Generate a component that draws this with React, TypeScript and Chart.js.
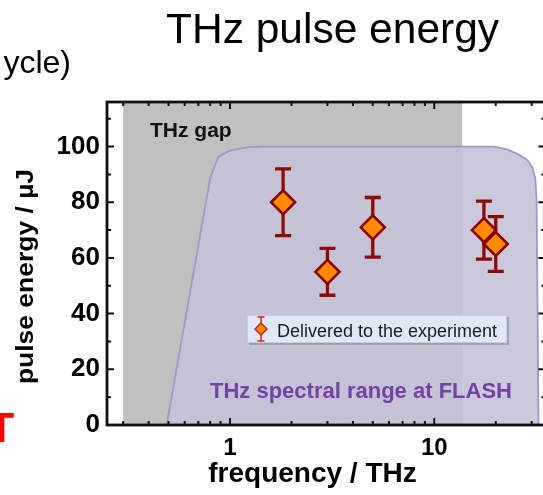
import { useEffect, useRef } from "react";
import { Chart, registerables } from "chart.js";

Chart.register(...registerables);

const FONT = '"Liberation Sans", Arial, Helvetica, sans-serif';

// Measured points: frequency (THz), pulse energy (µJ), error (µJ)
const freqTHz = [1.82, 3.0, 5.0, 17.5, 20.0];
const energyUJ = [80, 55, 71, 70, 65];
const errorUJ = [12, 8.4, 10.7, 10.4, 9.8];

// Outline of the THz spectral range at FLASH
const rangeFreqTHz = [0.49, 0.8, 0.877, 1.0, 1.23, 1.43, 19.6, 22.8, 26.1, 28.5, 30.1, 31.2, 31.7, 32.4];
const rangeEnergyUJ = [0, 88.6, 96.4, 98.5, 99.8, 100, 100, 99.0, 97.0, 95.2, 92.8, 88.8, 80.8, 0];

// THz gap band (frequency limits)
const gapFreqTHz = [0.3, 13.7];

// Axis ticks
const yTickValues = [0, 20, 40, 60, 80, 100];
const yMinorValues = [10, 30, 50, 70, 90, 110];
const xTickValues = [1, 10];
const xMinorValues = [0.3, 0.4, 0.5, 0.6, 0.7, 0.8, 0.9, 2, 3, 4, 5, 6, 7, 8, 9, 20, 30];

// Texts
const chartTitle = "THz pulse energy";
const xTitle = "frequency / THz";
const yTitle = "pulse energy / µJ";
const legendLabel = "Delivered to the experiment";
const rangeLabel = "THz spectral range at FLASH";
const gapLabel = "THz gap";
const leftFragment = "ycle)";
const redFragment = "T";

const decorPlugin = {
  id: "decor",
  beforeDatasetsDraw(chart: any) {
    const { ctx, chartArea: a, scales } = chart;
    const x = scales.x;
    ctx.save();
    const gx0 = x.getPixelForValue(gapFreqTHz[0]);
    const gx1 = x.getPixelForValue(gapFreqTHz[1]);
    ctx.fillStyle = "#c0c0c0";
    ctx.fillRect(gx0, a.top, gx1 - gx0, a.bottom - a.top);
    ctx.fillStyle = "#111111";
    ctx.font = `bold 21px ${FONT}`;
    ctx.textAlign = "left";
    ctx.textBaseline = "alphabetic";
    ctx.fillText(gapLabel, 150, 137);
    ctx.restore();
  },
  beforeDatasetDraw(chart: any, args: any) {
    if (args.index !== 0) return;
    const { ctx, scales } = chart;
    const x = scales.x;
    const y = scales.y;
    ctx.save();
    ctx.strokeStyle = "#8b0a0a";
    ctx.lineWidth = 3.3;
    ctx.lineCap = "butt";
    for (let i = 0; i < freqTHz.length; i++) {
      const px = x.getPixelForValue(freqTHz[i]);
      const pTop = y.getPixelForValue(energyUJ[i] + errorUJ[i]);
      const pBot = y.getPixelForValue(energyUJ[i] - errorUJ[i]);
      ctx.beginPath();
      ctx.moveTo(px, pTop);
      ctx.lineTo(px, pBot);
      ctx.moveTo(px - 8, pTop);
      ctx.lineTo(px + 8, pTop);
      ctx.moveTo(px - 8, pBot);
      ctx.lineTo(px + 8, pBot);
      ctx.stroke();
    }
    ctx.restore();
  },
  afterDatasetsDraw(chart: any) {
    const { ctx, chartArea: a, scales } = chart;
    const x = scales.x;
    const y = scales.y;
    ctx.save();
    // spectral range label
    ctx.fillStyle = "#7442a6";
    ctx.font = `bold 22px ${FONT}`;
    ctx.textAlign = "left";
    ctx.textBaseline = "alphabetic";
    ctx.fillText(rangeLabel, 210, 398);

    // legend box
    const bx = 247, by = 315, bw = 260, bh = 28;
    ctx.fillStyle = "rgba(90,90,110,0.35)";
    ctx.fillRect(bx + 2, by + 2, bw, bh);
    ctx.fillStyle = "#dfe8f4";
    ctx.fillRect(bx, by, bw, bh);
    ctx.strokeStyle = "#c4cedc";
    ctx.lineWidth = 1;
    ctx.strokeRect(bx + 0.5, by + 0.5, bw - 1, bh - 1);
    // legend icon
    const ix = 261, iy = 329;
    ctx.strokeStyle = "#d82018";
    ctx.lineWidth = 1.5;
    ctx.beginPath();
    ctx.moveTo(ix, iy - 12);
    ctx.lineTo(ix, iy + 12);
    ctx.moveTo(ix - 3.5, iy - 12);
    ctx.lineTo(ix + 3.5, iy - 12);
    ctx.moveTo(ix - 3.5, iy + 12);
    ctx.lineTo(ix + 3.5, iy + 12);
    ctx.stroke();
    ctx.beginPath();
    ctx.moveTo(ix - 6, iy);
    ctx.lineTo(ix, iy - 6);
    ctx.lineTo(ix + 6, iy);
    ctx.lineTo(ix, iy + 6);
    ctx.closePath();
    ctx.fillStyle = "#ff8c00";
    ctx.fill();
    ctx.strokeStyle = "#d82018";
    ctx.stroke();
    ctx.fillStyle = "#1a1a28";
    ctx.font = `18px ${FONT}`;
    ctx.fillText(legendLabel, 277, 336.5);

    // frame and inward ticks
    ctx.strokeStyle = "#111111";
    ctx.lineWidth = 2;
    ctx.beginPath();
    for (const v of yTickValues) {
      const p = y.getPixelForValue(v);
      ctx.moveTo(a.left, p); ctx.lineTo(a.left + 7, p);
      ctx.moveTo(a.right, p); ctx.lineTo(a.right - 7, p);
    }
    for (const v of yMinorValues) {
      const p = y.getPixelForValue(v);
      ctx.moveTo(a.left, p); ctx.lineTo(a.left + 4, p);
      ctx.moveTo(a.right, p); ctx.lineTo(a.right - 4, p);
    }
    for (const v of xTickValues) {
      const p = x.getPixelForValue(v);
      ctx.moveTo(p, a.bottom); ctx.lineTo(p, a.bottom - 7);
      ctx.moveTo(p, a.top); ctx.lineTo(p, a.top + 7);
    }
    for (const v of xMinorValues) {
      const p = x.getPixelForValue(v);
      ctx.moveTo(p, a.bottom); ctx.lineTo(p, a.bottom - 4);
      ctx.moveTo(p, a.top); ctx.lineTo(p, a.top + 4);
    }
    ctx.stroke();
    ctx.lineWidth = 2.8;
    ctx.strokeRect(a.left, a.top, a.right - a.left, a.bottom - a.top);
    ctx.restore();
  },
  afterDraw(chart: any) {
    const { ctx } = chart;
    ctx.save();
    ctx.textBaseline = "alphabetic";
    // slide title
    ctx.fillStyle = "#000000";
    ctx.font = `42.5px ${FONT}`;
    ctx.textAlign = "left";
    ctx.fillText(chartTitle, 166, 43);
    // cut-off fragments of the slide
    ctx.font = `32px ${FONT}`;
    ctx.textAlign = "right";
    ctx.fillText(leftFragment, 71, 73);
    ctx.fillStyle = "#ff0000";
    ctx.font = `bold 42px ${FONT}`;
    ctx.textAlign = "left";
    ctx.fillText(redFragment, -11.5, 442);
    // x title
    ctx.fillStyle = "#000000";
    ctx.font = `bold 28px ${FONT}`;
    ctx.textAlign = "center";
    ctx.fillText(xTitle, 312.5, 482);
    // y title
    ctx.translate(33, 276.5);
    ctx.rotate(-Math.PI / 2);
    ctx.scale(1.15, 1);
    ctx.font = `bold 23px ${FONT}`;
    ctx.fillText(yTitle, 0, 0);
    ctx.restore();
  },
};

export default function App() {
  const canvasRef = useRef<HTMLCanvasElement | null>(null);

  useEffect(() => {
    const canvas = canvasRef.current;
    if (!canvas) return;
    const chart = new Chart(canvas, {
      type: "scatter",
      data: {
        datasets: [
          {
            label: legendLabel,
            data: freqTHz.map((f, i) => ({ x: f, y: energyUJ[i] })),
            pointStyle: "rectRot",
            pointRadius: 12,
            pointHoverRadius: 12,
            backgroundColor: "#ff8c00",
            borderColor: "#8b0000",
            borderWidth: 2.6,
          },
          {
            type: "line",
            label: rangeLabel,
            data: rangeFreqTHz.map((f, i) => ({ x: f, y: rangeEnergyUJ[i] })),
            showLine: true,
            fill: "origin",
            pointRadius: 0,
            tension: 0,
            backgroundColor: "rgba(198,194,216,0.9)",
            borderColor: "#a199c4",
            borderWidth: 1.8,
          } as any,
        ],
      },
      options: {
        responsive: false,
        animation: false,
        devicePixelRatio: 1,
        events: [],
        layout: { padding: { top: 102, right: 12, left: 0, bottom: 0 } },
        plugins: {
          legend: { display: false },
          tooltip: { enabled: false },
          title: { display: false },
        },
        scales: {
          x: {
            type: "logarithmic",
            min: 0.25,
            max: 35,
            grid: { display: false, drawTicks: false },
            border: { display: false },
            afterBuildTicks: (scale: any) => {
              scale.ticks = xTickValues.map((v) => ({ value: v }));
            },
            afterFit: (scale: any) => {
              scale.height = 70;
            },
            ticks: {
              autoSkip: false,
              maxRotation: 0,
              padding: 9,
              color: "#000000",
              font: { family: FONT, size: 24, weight: "bold" },
              callback: (v: any) => String(v),
            },
          },
          y: {
            type: "linear",
            min: 0,
            max: 116,
            grid: { display: false, drawTicks: false },
            border: { display: false },
            afterBuildTicks: (scale: any) => {
              scale.ticks = yTickValues.map((v) => ({ value: v }));
            },
            afterFit: (scale: any) => {
              scale.width = 107;
            },
            ticks: {
              padding: 7,
              color: "#000000",
              font: { family: FONT, size: 26, weight: "bold" },
              callback: (v: any) => String(v),
            },
          },
        },
      },
      plugins: [decorPlugin],
    });
    return () => chart.destroy();
  }, []);

  return (
    <div
      style={{
        position: "fixed",
        left: 0,
        top: 0,
        width: 543,
        height: 495,
        overflow: "hidden",
        background: "#ffffff",
      }}
    >
      <canvas
        ref={canvasRef}
        width={560}
        height={495}
        style={{ display: "block", width: 560, height: 495 }}
      />
    </div>
  );
}
